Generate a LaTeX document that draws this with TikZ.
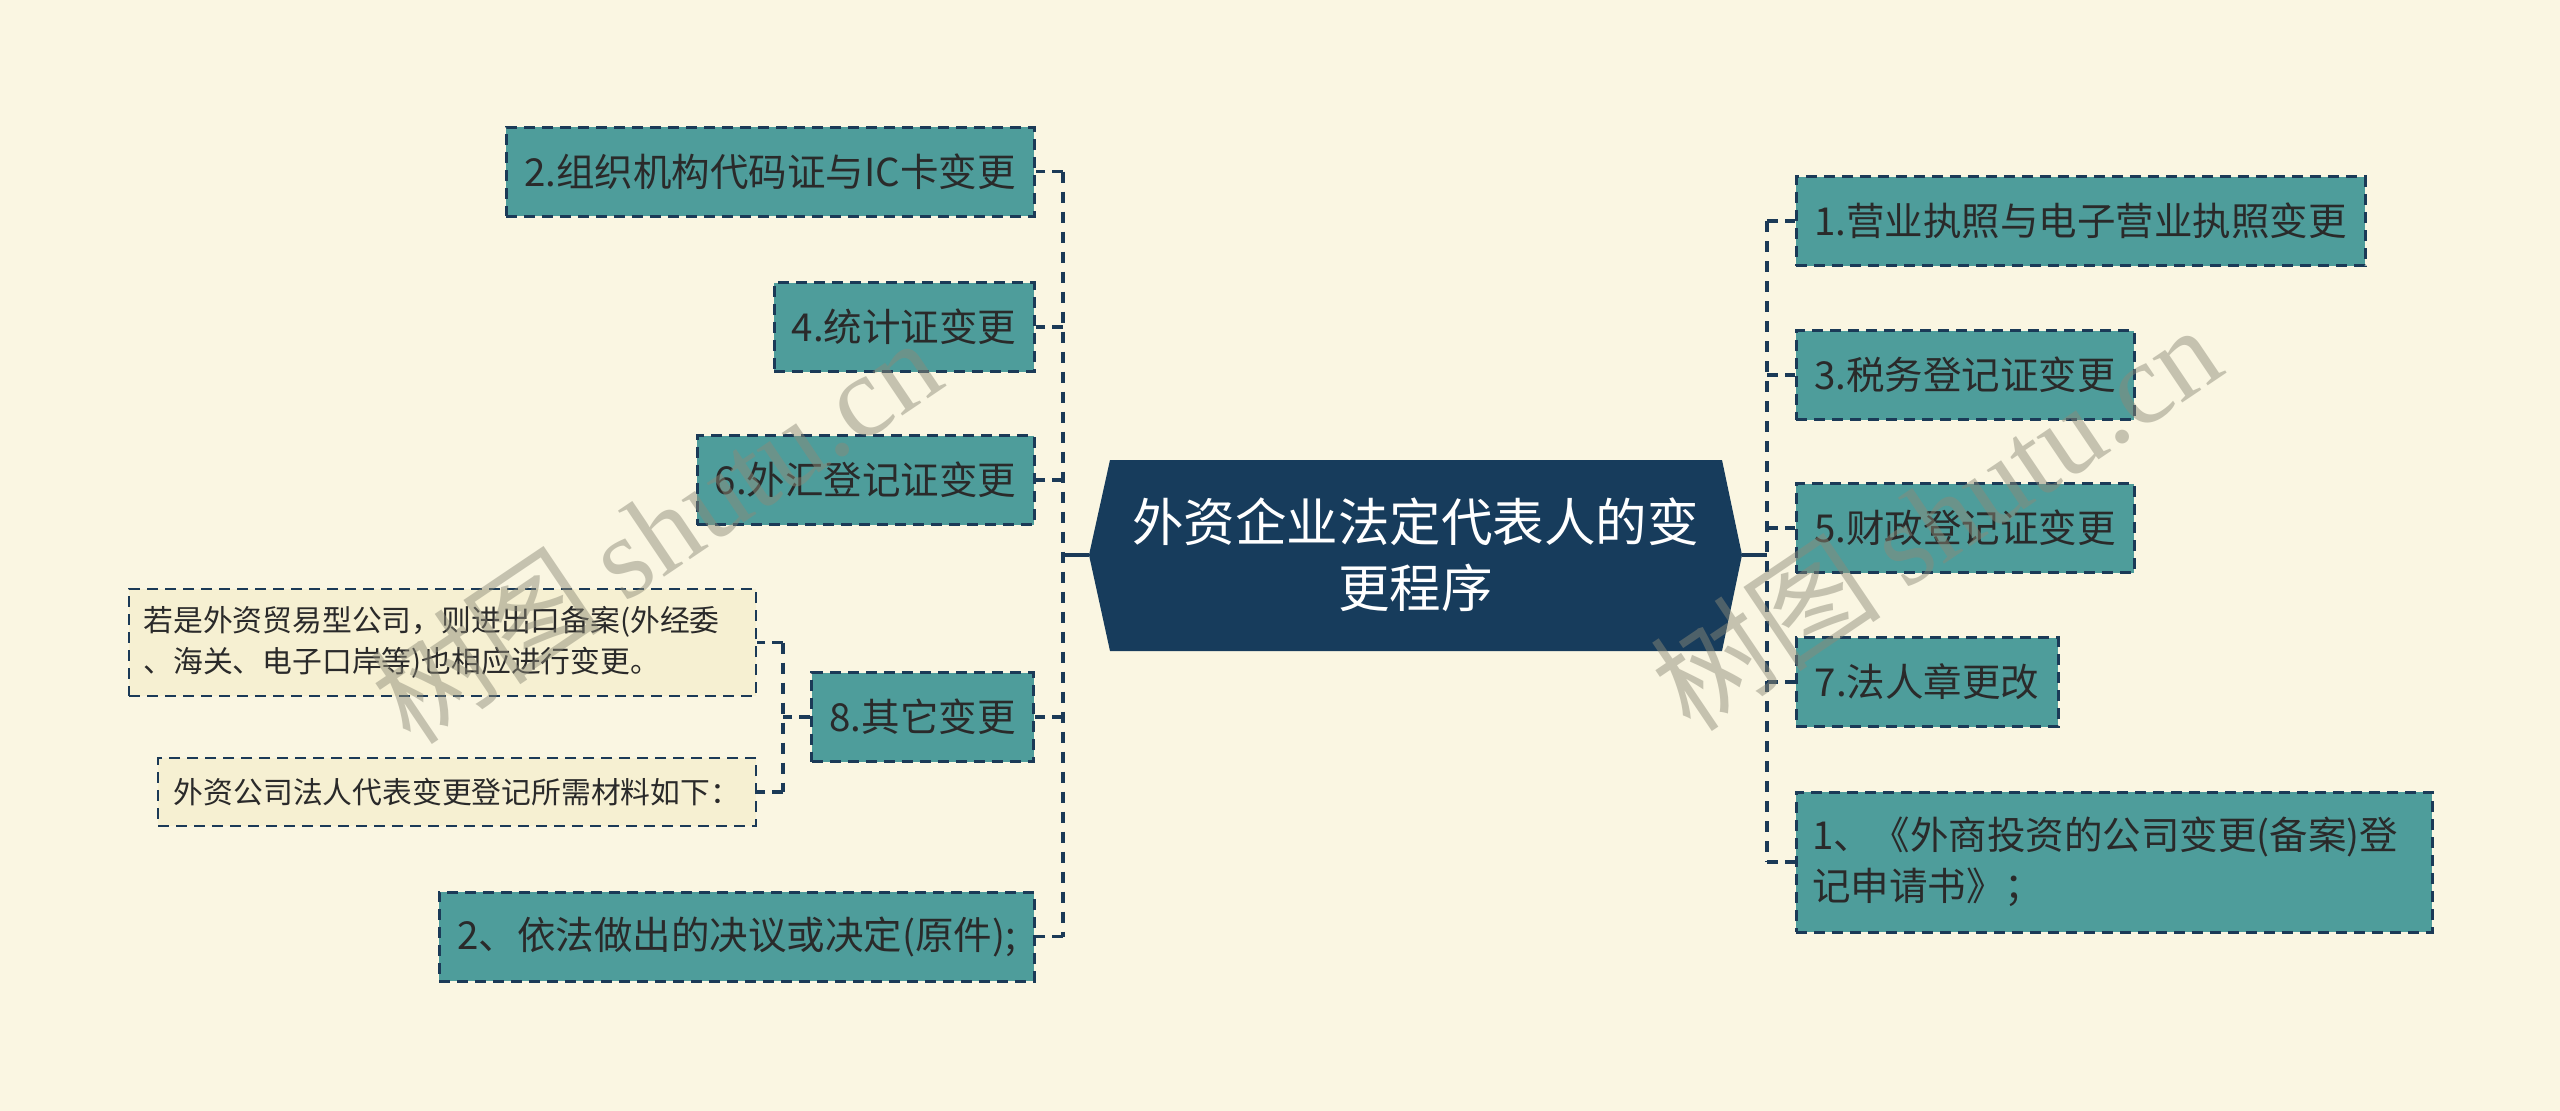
\documentclass[tikz,border=0pt]{standalone}
\usepackage{fontspec}
\setmainfont{Noto Sans CJK SC}
\newfontfamily\wmserif{Liberation Serif}
\usetikzlibrary{calc}
\definecolor{bg}{RGB}{250,246,226}
\definecolor{teal}{RGB}{78,157,155}
\definecolor{navy}{RGB}{27,58,87}
\definecolor{hubfill}{RGB}{23,60,92}
\definecolor{notefill}{RGB}{246,240,210}
\definecolor{txt}{RGB}{42,42,42}
\definecolor{wm}{RGB}{140,138,120}
\tikzset{
  box/.style={draw=navy, line width=3pt, dash pattern=on 11pt off 7pt, fill=teal, text=txt,
    font=\fontsize{38.5}{51}\selectfont, minimum height=89pt, inner sep=0pt, anchor=center},
  note/.style={draw=navy, line width=2.5pt, dash pattern=on 11pt off 7pt, fill=notefill, text=txt,
    font=\fontsize{29.8}{41}\selectfont, inner sep=0pt, anchor=center},
  trunk/.style={draw=navy, line width=4pt, dash pattern=on 11pt off 9pt},
  stub/.style={draw=navy, line width=3.5pt, dash pattern=on 11pt off 7pt},
  link/.style={draw=navy, line width=4pt},
  wmark/.style={text=wm, opacity=0.48, font=\fontsize{116}{116}\selectfont, inner sep=0pt}
}
\begin{document}
\begin{tikzpicture}[x=1pt,y=-1pt]
\useasboundingbox (0,0) rectangle (2560,1111);
\fill[bg] (0,0) rectangle (2560,1111);

% central hexagon
\fill[hubfill] (1089,555) -- (1110,460) -- (1722,460) -- (1742,555) -- (1722,651) -- (1110,651) -- cycle;
\node[text=white, font=\fontsize{51.5}{66}\selectfont, align=center, minimum width=653pt, minimum height=191pt, inner sep=0pt]
  (hub) at (1415.5,555) {外资企业法定代表人的变\\更程序};

\coordinate (jl) at (1063,555);
\coordinate (jr) at (1767,555);
\coordinate (js) at (783,717);

% left boxes
\node[box, minimum width=528pt] (A) at (770,171.5) {2.组织机构代码证与IC卡变更};
\node[box, minimum width=260pt] (B) at (904,327) {4.统计证变更};
\node[box, minimum width=337pt] (C) at (865.5,480) {6.外汇登记证变更};
\node[box, minimum width=222pt] (D) at (922.5,717) {8.其它变更};
\node[box, minimum width=595pt] (E) at (736.5,936.5) {2、依法做出的决议或决定(原件);};
\node[note, minimum width=627pt, minimum height=107pt, align=left, text width=598pt] (F) at (442.5,642.5)
  {若是外资贸易型公司，则进出口备案(外经委\\、海关、电子口岸等)也相应进行变更。};
\node[note, minimum width=598pt, minimum height=68pt] (G) at (457,792) {外资公司法人代表变更登记所需材料如下：};

% right boxes
\node[box, minimum width=569pt] (R1) at (2080.5,221) {1.营业执照与电子营业执照变更};
\node[box, minimum width=338pt] (R2) at (1965,375) {3.税务登记证变更};
\node[box, minimum width=338pt] (R3) at (1965,528) {5.财政登记证变更};
\node[box, minimum width=262pt] (R4) at (1927,682) {7.法人章更改};
\node[box, minimum width=636pt, minimum height=140pt, align=left, text width=604pt] (R5) at (2114,862)
  {1、《外商投资的公司变更(备案)登\\记申请书》；};

% connectors left
\draw[link] (hub.west) -- (jl);
\draw[trunk] (jl |- A.east) -- (jl |- E.east);
\foreach \n in {A,B,C,D,E} { \draw[stub] (jl |- \n.east) -- (\n.east); }
% sub connectors of D
\draw[trunk] (js |- F.east) -- (js |- G.east);
\draw[stub] (D.west) -- (js);
\draw[stub] (js |- F.east) -- (F.east);
\draw[stub] (js |- G.east) -- (G.east);

% connectors right
\draw[link] (hub.east) -- (jr);
\draw[trunk] (jr |- R1.west) -- (jr |- R5.west);
\foreach \n in {R1,R2,R3,R4,R5} { \draw[stub] (jr |- \n.west) -- (\n.west); }

% watermarks
\node[wmark, rotate=34] (wm1) at (655,530) {树图 {\wmserif shutu.cn}};
\node[wmark, rotate=34] (wm2) at (1935,517) {树图 {\wmserif shutu.cn}};
\end{tikzpicture}
\end{document}
